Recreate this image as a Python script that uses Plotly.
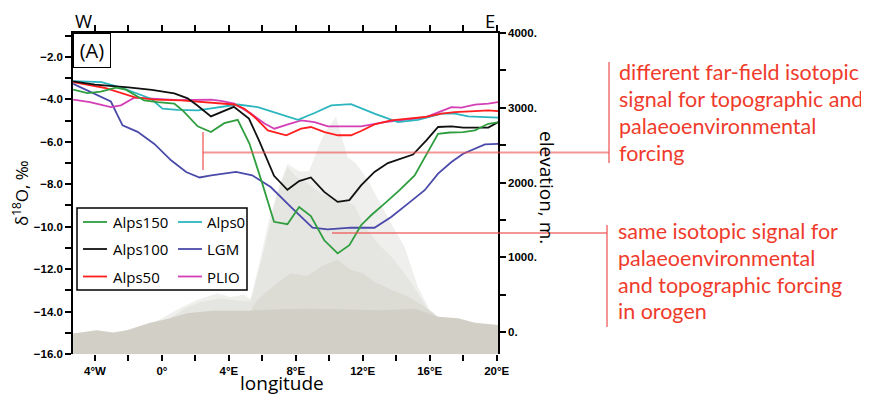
import plotly.graph_objects as go

# ---------------- data ----------------
# topography layers (longitude in degrees E, elevation in m)
base_lon = [-5.3, -3.9, -2.9, -2.1, -0.7, 0.5, 1.5, 3.0, 5.3, 7.1, 9.0, 11.1, 13.1, 15.1, 16.5, 17.7, 18.7, 20.1]
base_elev = [-20, 25, -5, 25, 125, 185, 250, 285, 285, 305, 310, 300, 290, 310, 205, 185, 125, 94]

alps50_lon = [5.3, 5.7, 6.9, 7.7, 8.7, 9.5, 9.9, 10.5, 11.3, 12.0, 12.7, 13.5, 14.7, 15.7, 16.3]
alps50_elev = [285, 430, 660, 785, 750, 873, 918, 963, 830, 785, 673, 584, 472, 338, 240]

alps100_lon = [0.5, 1.5, 2.3, 3.5, 4.5, 5.3, 6.0, 6.9, 7.5, 8.0, 8.7, 9.5, 10.5, 11.5, 12.1, 13.1, 13.7, 14.5, 15.3, 15.9, 16.5]
alps100_elev = [185, 330, 400, 450, 420, 410, 1000, 1850, 2210, 2080, 1990, 1850, 1780, 1700, 1410, 1140, 1010, 785, 520, 300, 205]

alps150_lon = [-0.5, 0.5, 1.1, 2.1, 3.3, 4.1, 4.9, 5.3, 5.8, 6.4, 7.0, 7.5, 8.2, 8.8, 9.3, 9.7, 10.4, 11.1, 11.6, 12.1, 12.5, 13.7, 14.5, 15.3, 16.1, 16.5]
alps150_elev = [120, 250, 320, 430, 520, 470, 500, 440, 900, 1500, 1950, 2250, 2150, 2150, 2450, 2650, 2880, 2340, 2250, 2100, 1950, 1450, 1140, 600, 250, 205]

# delta18O profiles (per mil)
alps150_x = [-5.3, -4.45, -3.65, -2.75, -2.15, -1.06, -0.26, 0.74, 1.24, 2.14, 2.93, 3.73, 4.53, 5.23, 6.0, 6.7, 7.5, 8.2, 8.9, 9.7, 10.5, 11.2, 11.9, 12.5, 13.3, 14.2, 15.1, 15.7, 16.5, 17.2, 18.0, 18.7, 19.5, 20.1]
alps150_d = [-3.54, -3.7, -3.63, -3.45, -3.54, -4.05, -4.13, -4.2, -4.52, -5.27, -5.54, -5.12, -4.96, -6.08, -7.97, -9.77, -9.88, -9.07, -9.5, -10.64, -11.26, -10.87, -9.93, -9.46, -8.91, -8.28, -7.58, -6.71, -5.62, -5.56, -5.54, -5.46, -5.15, -5.08]

alps100_x = [-5.3, -4.0, -2.0, -0.6, 0.74, 1.54, 2.14, 2.93, 4.3, 5.2, 5.8, 6.7, 7.5, 8.2, 8.9, 9.7, 10.5, 11.2, 11.9, 12.7, 13.5, 14.3, 15.0, 15.8, 16.5, 17.3, 18.0, 19.5, 20.1]
alps100_d = [-3.15, -3.3, -3.43, -3.55, -3.72, -3.95, -4.3, -4.8, -4.35, -4.9, -5.93, -7.6, -8.26, -7.85, -7.68, -8.36, -8.83, -8.75, -8.05, -7.42, -7.0, -6.79, -6.6, -5.93, -5.3, -5.27, -5.33, -5.33, -5.07]

alps50_x = [-5.3, -3.45, -1.65, -0.45, 1.15, 2.95, 4.33, 4.93, 5.53, 6.33, 7.43, 8.32, 8.9, 9.72, 10.52, 11.3, 11.9, 12.7, 13.7, 14.7, 15.7, 16.7, 17.5, 18.7, 19.5, 20.1]
alps50_d = [-3.19, -3.45, -3.89, -4.01, -4.05, -4.15, -4.24, -4.44, -4.83, -5.46, -5.69, -5.38, -5.3, -5.54, -5.69, -5.69, -5.49, -5.18, -4.99, -4.91, -4.83, -4.67, -4.6, -4.55, -4.52, -4.55]

alps0_x = [-5.3, -3.6, -2.4, -1.4, -0.65, 0.04, 0.94, 2.14, 3.5, 4.53, 5.73, 6.93, 8.13, 9.12, 10.12, 11.3, 12.7, 14.1, 15.3, 16.7, 17.5, 18.3, 19.5, 20.1]
alps0_d = [-3.14, -3.19, -3.45, -3.73, -3.97, -4.44, -4.49, -4.52, -4.36, -4.24, -4.36, -4.67, -4.96, -4.64, -4.28, -4.22, -4.67, -5.07, -4.96, -4.67, -4.67, -4.8, -4.86, -4.86]

lgm_x = [-5.3, -4.0, -3.05, -2.35, -1.45, -0.45, 0.55, 1.45, 2.25, 2.95, 4.43, 5.4, 6.5, 7.7, 9.0, 9.9, 11.3, 12.7, 13.7, 14.7, 15.7, 16.5, 17.3, 18.0, 18.5, 19.3, 20.1]
lgm_d = [-3.26, -3.75, -4.1, -5.22, -5.53, -6.1, -6.87, -7.42, -7.68, -7.58, -7.42, -7.58, -8.13, -9.07, -10.05, -10.13, -10.04, -10.05, -9.54, -8.91, -8.28, -7.5, -6.95, -6.56, -6.4, -6.12, -6.1]

plio_x = [-5.3, -4.3, -3.05, -2.45, -1.65, -0.65, 1.0, 2.93, 3.53, 4.33, 5.33, 6.13, 6.72, 7.53, 8.32, 9.12, 9.92, 11.3, 11.9, 13.3, 14.7, 15.7, 16.7, 17.3, 17.9, 18.7, 19.5, 20.1]
plio_d = [-4.01, -4.13, -4.36, -4.28, -3.92, -3.97, -4.03, -4.01, -4.07, -4.2, -4.67, -5.14, -5.38, -5.18, -4.99, -5.07, -5.27, -5.27, -5.27, -5.07, -4.96, -4.86, -4.55, -4.36, -4.39, -4.25, -4.2, -4.13]

series_names = ["Alps150", "Alps0", "Alps100", "LGM", "Alps50", "PLIO"]

x_tick_vals = [-4, 0, 4, 8, 12, 16, 20]
x_tick_text = ["4°W", "0°", "4°E", "8°E", "12°E", "16°E", "20°E"]
d_tick_vals = [-16, -14, -12, -10, -8, -6, -4, -2]
d_tick_text = ["−16.0", "−14.0", "−12.0", "−10.0", "−8.0", "−6.0", "−4.0", "−2.0"]
e_tick_vals = [0, 1000, 2000, 3000, 4000]
e_tick_text = ["0.", "1000.", "2000.", "3000.", "4000."]

# ---------------- styling ----------------
X_RANGE = [-5.31, 20.08]
E_RANGE = [-294, 4000]
D_RANGE = [-16, -0.87]

COLORS = {
    "Alps150": "#2f9e3f",
    "Alps0": "#2bb5bf",
    "Alps100": "#111111",
    "LGM": "#4a4aab",
    "Alps50": "#ff1f1f",
    "PLIO": "#d43fb6",
}
TERRAIN_COLORS = ["#efefee", "#e5e5e1", "#dcdbd4", "#d1cfc6"]

# page geometry (the page body has an 8 px margin)
OFF = 8
WIN_W, WIN_H = 869, 396
W, H = WIN_W - OFF, WIN_H - OFF
PL, PR, PT, PB = 73, 498, 33, 354   # plot area in page pixels


def fx(px):
    return (px - PL) / (PR - PL)


def fy(py):
    return (PB - py) / (PB - PT)


fig = go.Figure()

terrain = [
    (alps150_lon, alps150_elev),
    (alps100_lon, alps100_elev),
    (alps50_lon, alps50_elev),
    (base_lon, base_elev),
]
for (lon, elev), col in zip(terrain, TERRAIN_COLORS):
    fig.add_trace(go.Scatter(
        x=list(lon) + [lon[-1], lon[0]],
        y=list(elev) + [E_RANGE[0], E_RANGE[0]],
        fill="toself", fillcolor=col, mode="lines", line=dict(width=0, color=col),
        hoverinfo="skip", showlegend=False, xaxis="x", yaxis="y",
    ))

profiles = {
    "Alps150": (alps150_x, alps150_d),
    "Alps0": (alps0_x, alps0_d),
    "Alps100": (alps100_x, alps100_d),
    "LGM": (lgm_x, lgm_d),
    "Alps50": (alps50_x, alps50_d),
    "PLIO": (plio_x, plio_d),
}
draw_order = ["LGM", "PLIO", "Alps0", "Alps50", "Alps100", "Alps150"]
for name in draw_order:
    xs, ds = profiles[name]
    fig.add_trace(go.Scatter(
        x=xs, y=ds, mode="lines", name=name,
        line=dict(color=COLORS[name], width=1.8),
        showlegend=False, xaxis="x2", yaxis="y2",
    ))

tickfont = dict(family="Liberation Sans", size=11.5, color="black", weight="bold")

shapes = []
annotations = []

# manual legend
shapes.append(dict(type="rect", xref="paper", yref="paper", x0=fx(77), x1=fx(247), y0=fy(290), y1=fy(208),
                   line=dict(color="black", width=1.5), fillcolor="white", layer="above"))
rows = [222, 249, 276.5]
cols = [(83, 107, 111), (178, 202, 205)]
for i, name in enumerate(series_names):
    r, c = divmod(i, 2)
    lx0, lx1, tx = cols[c]
    py = rows[r]
    shapes.append(dict(type="line", xref="paper", yref="paper", x0=fx(lx0), x1=fx(lx1), y0=fy(py), y1=fy(py),
                       line=dict(color=COLORS[name], width=1.8), layer="above"))
    annotations.append(dict(text=name, xref="paper", yref="paper", x=fx(tx), y=fy(py), xanchor="left", yanchor="middle",
                            showarrow=False, font=dict(family="Open Sans", size=15, color="black")))

# red brackets
RED_LINE = "rgba(238,80,80,0.6)"
shapes += [
    dict(type="line", xref="paper", yref="paper", x0=fx(203), x1=fx(609), y0=fy(152.5), y1=fy(152.5), line=dict(color=RED_LINE, width=2), layer="above"),
    dict(type="line", xref="paper", yref="paper", x0=fx(203), x1=fx(203), y0=fy(132), y1=fy(170), line=dict(color=RED_LINE, width=2), layer="above"),
    dict(type="line", xref="paper", yref="paper", x0=fx(609), x1=fx(609), y0=fy(62), y1=fy(163), line=dict(color=RED_LINE, width=2), layer="above"),
    dict(type="line", xref="paper", yref="paper", x0=fx(332), x1=fx(607), y0=fy(233), y1=fy(233), line=dict(color=RED_LINE, width=2), layer="above"),
    dict(type="line", xref="paper", yref="paper", x0=fx(607), x1=fx(607), y0=fy(225), y1=fy(327), line=dict(color=RED_LINE, width=2), layer="above"),
]

RED_TEXT = "#ef3b2c"
block1 = ["different far-field isotopic", "signal for topographic and", "palaeoenvironmental", "forcing"]
block2 = ["same isotopic signal for", "palaeoenvironmental", "and topographic forcing", "in orogen"]
for lines, x0, ys in [(block1, 617, [72, 99, 126, 153]), (block2, 616, [231, 258, 285, 311])]:
    for t, py in zip(lines, ys):
        annotations.append(dict(text=t, xref="paper", yref="paper", x=fx(x0), y=fy(py), xanchor="left", yanchor="middle",
                                showarrow=False, font=dict(family="Lato", size=21.5, color=RED_TEXT)))

# titles and labels
annotations += [
    dict(text="W", xref="paper", yref="paper", x=fx(83), y=fy(20), xanchor="center", yanchor="middle", showarrow=False,
         borderpad=0, font=dict(family="Open Sans", size=18.5, color="black")),
    dict(text="E", xref="paper", yref="paper", x=fx(490), y=fy(20), xanchor="center", yanchor="middle", showarrow=False,
         borderpad=0, font=dict(family="Open Sans", size=18.5, color="black")),
    dict(text="longitude", xref="paper", yref="paper", x=fx(282), y=fy(383), xanchor="center", yanchor="middle", showarrow=False,
         borderpad=0, font=dict(family="Open Sans", size=19, color="black")),
    dict(text="δ<sup>18</sup>O, ‰", xref="paper", yref="paper", x=fx(20), y=fy(193), xanchor="center", yanchor="middle",
         showarrow=False, textangle=-90, font=dict(family="Open Sans", size=17, color="black")),
    dict(text="elevation, m.", xref="paper", yref="paper", x=fx(547), y=fy(187), xanchor="center", yanchor="middle",
         showarrow=False, textangle=90, font=dict(family="Open Sans", size=19, color="black")),
    dict(text="(A)", xref="paper", yref="paper", x=fx(73), y=fy(33), xanchor="left", yanchor="top", showarrow=False,
         width=34, height=31, bordercolor="black", borderwidth=1, borderpad=1, bgcolor="white",
         font=dict(family="Open Sans", size=20, color="black")),
]

tick_common = dict(ticks="outside", ticklen=6, tickwidth=1.5, tickcolor="black", showgrid=False, zeroline=False)

fig.update_layout(
    width=W, height=H,
    margin=dict(l=PL - OFF, r=WIN_W - PR, t=PT - OFF, b=WIN_H - PB, pad=0),
    paper_bgcolor="white", plot_bgcolor="rgba(0,0,0,0)",
    showlegend=False,
    xaxis=dict(range=X_RANGE, tickvals=x_tick_vals, ticktext=x_tick_text, showline=False, tickfont=tickfont,
               ticklabelstandoff=0, minor=dict(dtick=2, tick0=0, ticks="outside", ticklen=6, tickwidth=1.5, tickcolor="black"),
               **tick_common),
    xaxis2=dict(range=X_RANGE, overlaying="x", side="top", anchor="y2", tickvals=x_tick_vals, showticklabels=False,
                showline=True, linecolor="black", linewidth=1.5,
                minor=dict(dtick=2, tick0=0, ticks="outside", ticklen=6, tickwidth=1.5, tickcolor="black"),
                **tick_common),
    yaxis=dict(range=E_RANGE, side="right", anchor="x", tickvals=e_tick_vals, ticktext=e_tick_text,
               showline=True, linecolor="black", linewidth=1.5, tickfont=tickfont,
               minor=dict(dtick=500, tick0=0, ticks="outside", ticklen=6, tickwidth=1.5, tickcolor="black"),
               **tick_common),
    yaxis2=dict(range=D_RANGE, overlaying="y", side="left", anchor="x", tickvals=d_tick_vals, ticktext=d_tick_text,
                showline=True, linecolor="black", linewidth=1.5, tickfont=tickfont,
                minor=dict(dtick=1, tick0=0, ticks="outside", ticklen=6, tickwidth=1.5, tickcolor="black"),
                **tick_common),
    shapes=shapes,
    annotations=annotations,
)

fig.write_html("out.html")
